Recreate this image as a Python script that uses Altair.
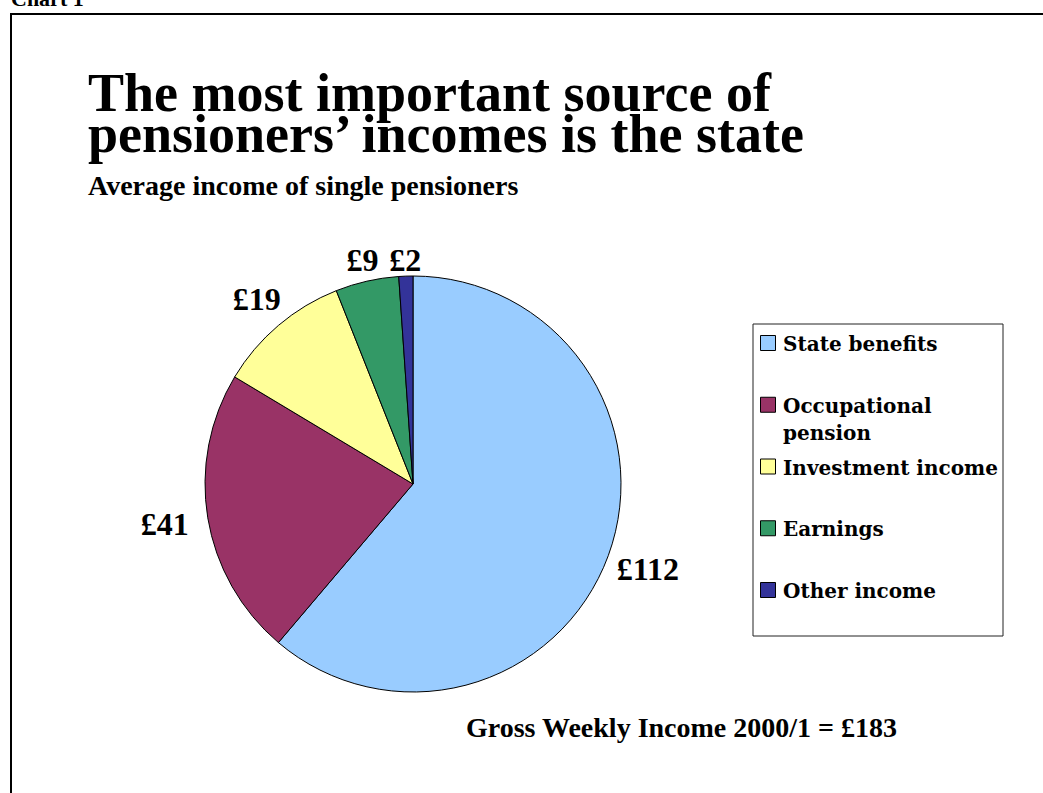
import altair as alt
import pandas as pd

categories = ["State benefits", "Occupational pension", "Investment income", "Earnings", "Other income"]
values = [112, 41, 19, 9, 2]
colors = ["#99CCFF", "#993366", "#FFFF99", "#339966", "#333399"]

title_lines = ["The most important source of", "pensioners\u2019 incomes is the state"]
subtitle = "Average income of single pensioners"
footer = "Gross Weekly Income 2000/1 = \u00a3183"
corner = "Chart 1"

FONT = "Liberation Serif"
WIDE = "DejaVu Serif"
CX, CY, R = 413, 484, 208

df = pd.DataFrame({"category": categories, "value": values, "idx": list(range(len(categories)))})

color = alt.Color("category:N", scale=alt.Scale(domain=categories, range=colors), legend=None)
order = alt.Order("idx:Q")

base = alt.Chart(df)

pie = base.mark_arc(outerRadius=R, stroke="black", strokeWidth=1).encode(
    theta=alt.Theta("value:Q", stack=True), color=color, order=order, x=alt.value(CX), y=alt.value(CY)
)

labels = base.transform_joinaggregate(total="sum(value)").transform_window(
    cum="sum(value)", sort=[alt.SortField("idx")]
).transform_calculate(
    midv="datum.cum - datum.value/2",
    mid="2*PI*(datum.cum - datum.value/2)/datum.total",
    r="222 + 30*abs(sin(datum.mid))",
    lab="'\u00a3' + datum.value",
).mark_text(font=FONT, fontSize=32, fontWeight="bold", baseline="middle", align="center", color="black").encode(
    theta=alt.Theta("midv:Q", stack=None), radius=alt.Radius("r:Q", scale=None), text="lab:N",
    x=alt.value(CX), y=alt.value(CY)
)

ly = alt.Y("category:N", scale=alt.Scale(domain=categories, range=[343, 590], padding=0), axis=None)

legend_box = alt.Chart(alt.Data(values=[{}])).mark_rect(fill="white", stroke="#222222", strokeWidth=1).encode(
    x=alt.value(753), x2=alt.value(1003), y=alt.value(324), y2=alt.value(636)
)

legend_sq = base.mark_square(size=225, stroke="black", strokeWidth=1, opacity=1).encode(
    y=ly, x=alt.value(768), color=color
)

legend_txt = base.transform_calculate(
    lab="replace(datum.category, 'Occupational ', 'Occupational\\n')"
).mark_text(font=WIDE, fontSize=20, fontWeight="bold", align="left", baseline="alphabetic",
            dy=8, lineBreak="\n", lineHeight=27, color="black").encode(
    y=ly, x=alt.value(783), text="lab:N"
)

frame = alt.Chart(alt.Data(values=[{}])).mark_rect(fill="white", stroke="black", strokeWidth=2).encode(
    x=alt.value(11), x2=alt.value(1100), y=alt.value(14), y2=alt.value(900)
)

def txt(s, x, y, size, font=FONT, align="left"):
    return alt.Chart(alt.Data(values=[{}])).mark_text(
        font=font, fontSize=size, fontWeight="bold", align=align, baseline="alphabetic", color="black"
    ).encode(x=alt.value(x), y=alt.value(y), text=alt.value(s))

texts = [
    txt(corner, 11, 6, 22),
    txt(title_lines[0], 88, 111, 54),
    txt(title_lines[1], 88, 152, 54),
    txt(subtitle, 88, 195, 28),
    txt(footer, 466, 737, 28),
]

chart = alt.layer(frame, *texts, pie, labels, legend_box, legend_sq, legend_txt).properties(
    width=1043, height=793, autosize=alt.AutoSizeParams(type="none"), padding=0
).configure_view(stroke=None)

chart.save("out.html", embed_options={"renderer": "svg", "actions": False})
